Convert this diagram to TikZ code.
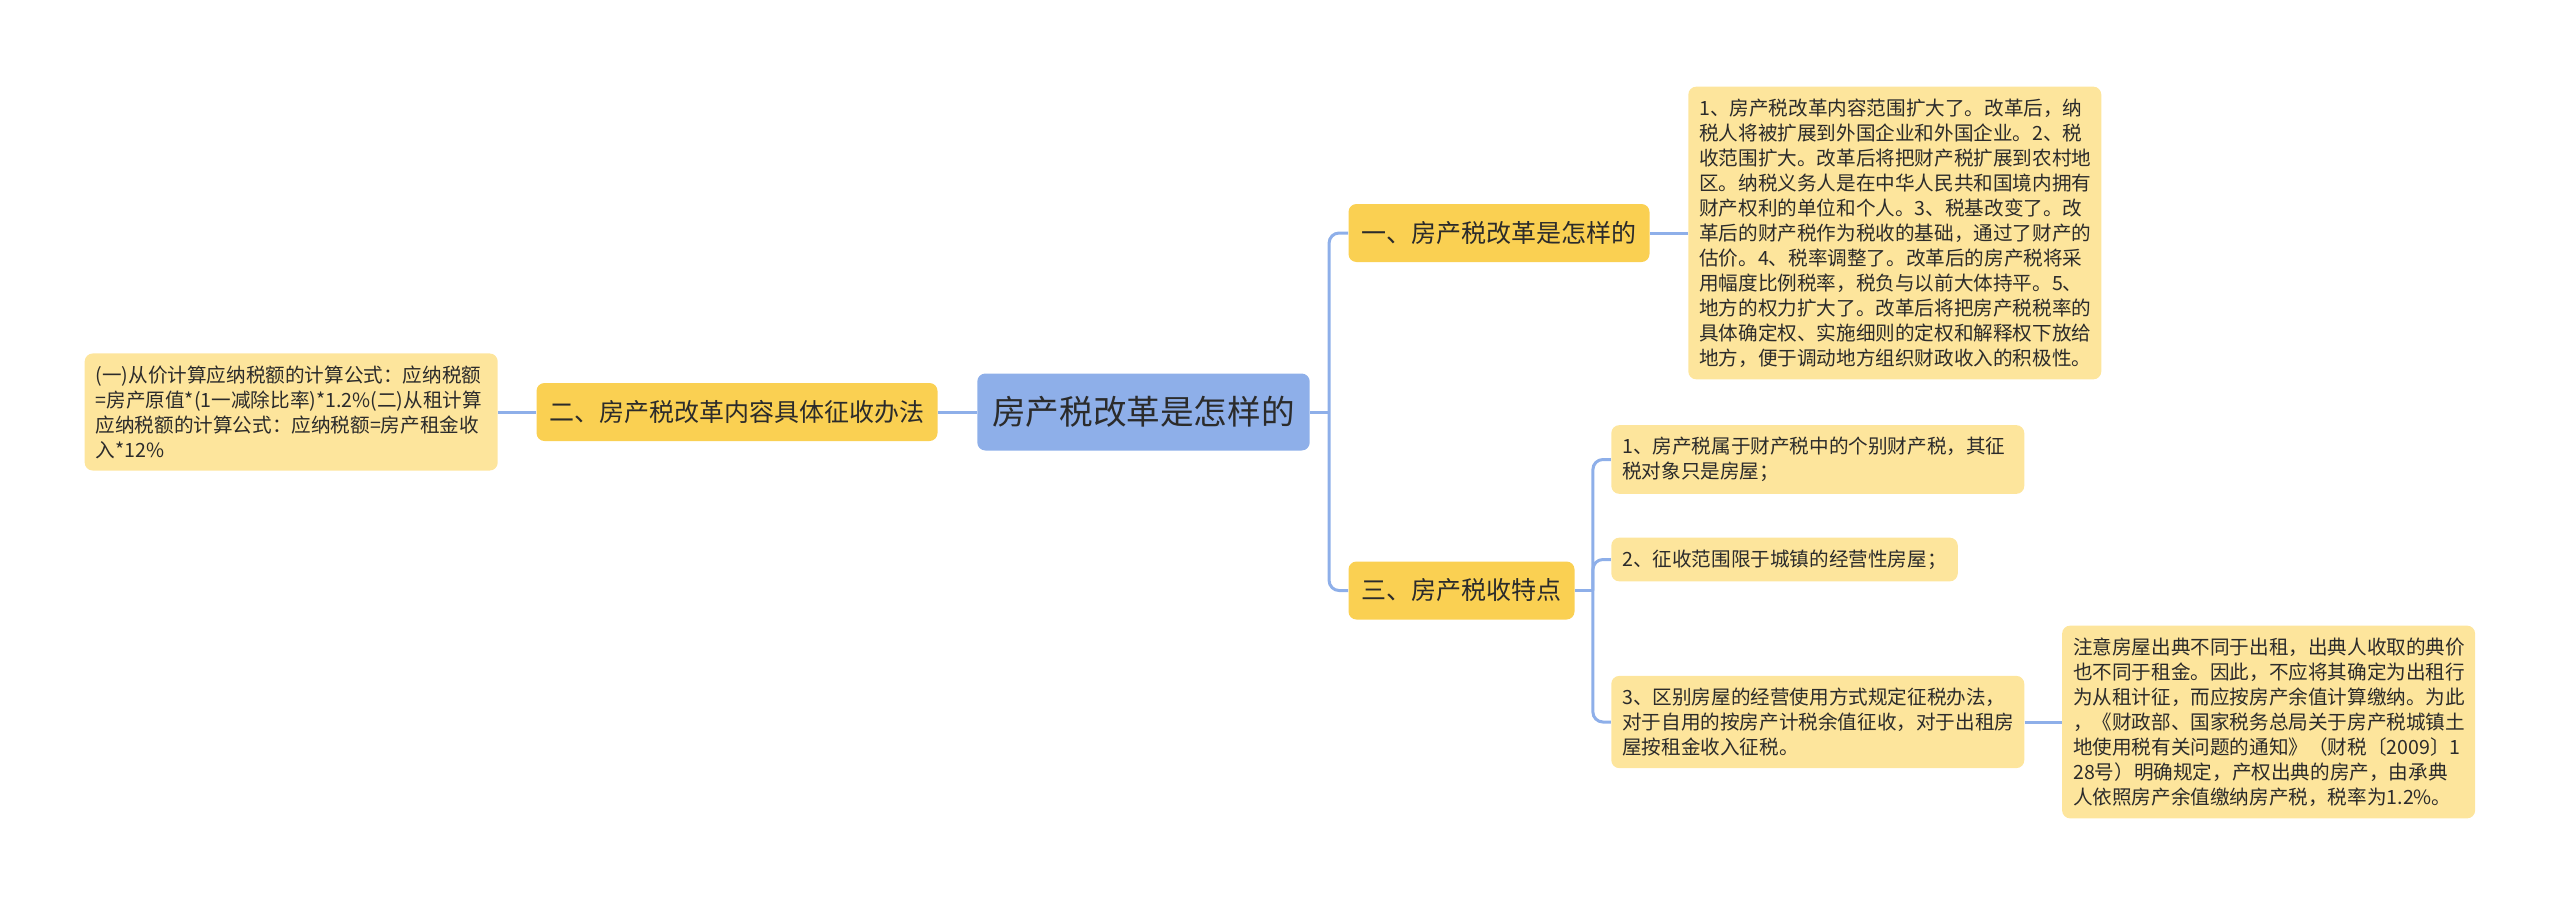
\documentclass[tikz,border=0pt]{standalone}
\usepackage{fontspec}
\setmainfont{Noto Sans CJK SC}
\definecolor{rootblue}{HTML}{8EAFE9}
\definecolor{branchgold}{HTML}{FAD052}
\definecolor{leafcream}{HTML}{FDE59C}
\definecolor{linkblue}{HTML}{8EAFE9}
\definecolor{inkgray}{HTML}{2B2B2B}
\usetikzlibrary{positioning}

\begin{document}
\begin{tikzpicture}[node distance=19pt,
  rootbox/.style={draw=none,fill=rootblue,rounded corners=4pt,inner xsep=7.5pt,minimum height=38.5pt,text=inkgray,font=\fontsize{16.8pt}{20pt}\selectfont},
  branchbox/.style={fill=branchgold,rounded corners=4pt,inner xsep=6.5pt,minimum height=29pt,text=inkgray,font=\fontsize{12.5pt}{15pt}\selectfont},
  leafbox/.style={fill=leafcream,rounded corners=4pt,inner xsep=5.5pt,inner ysep=6pt,align=left,text=inkgray,font=\fontsize{9.8pt}{12.5pt}\selectfont},
  wideleaf/.style={leafbox,text width=195.5pt},
  link/.style={draw=linkblue,line width=1.5pt},
  elbow/.style={link,rounded corners=5pt}]
  \useasboundingbox (0,0) rectangle (1280pt,-452.5pt);
  % centre and left side
  \node[rootbox] (root) at (571.75pt,-206pt) {房产税改革是怎样的};
  \node[branchbox,left=19.5pt of root] (reform) {二、房产税改革内容具体征收办法};
  \node[wideleaf,left=of reform] (formula) {(一)从价计算应纳税额的计算公式：应纳税额\\=房产原值*(1一减除比率)*1.2\%(二)从租计算\\应纳税额的计算公式：应纳税额=房产租金收\\入*12\%};
  % right side
  \node[branchbox,right=of root,yshift=89.5pt] (what) {一、房产税改革是怎样的};
  \node[wideleaf,right=of what] (whatinfo) {1、房产税改革内容范围扩大了。改革后，纳\\税人将被扩展到外国企业和外国企业。2、税\\收范围扩大。改革后将把财产税扩展到农村地\\区。纳税义务人是在中华人民共和国境内拥有\\财产权利的单位和个人。3、税基改变了。改\\革后的财产税作为税收的基础，通过了财产的\\估价。4、税率调整了。改革后的房产税将采\\用幅度比例税率，税负与以前大体持平。5、\\地方的权力扩大了。改革后将把房产税税率的\\具体确定权、实施细则的定权和解释权下放给\\地方，便于调动地方组织财政收入的积极性。};
  \node[branchbox,right=of root,yshift=-89.25pt] (traits) {三、房产税收特点};
  \node[wideleaf,right=18pt of traits,yshift=65.5pt] (tone) {1、房产税属于财产税中的个别财产税，其征\\税对象只是房屋；};
  \node[leafbox,right=18pt of traits,yshift=15.5pt] (ttwo) {2、征收范围限于城镇的经营性房屋；};
  \node[wideleaf,right=18pt of traits,yshift=-65.75pt] (tthree) {3、区别房屋的经营使用方式规定征税办法，\\对于自用的按房产计税余值征收，对于出租房\\屋按租金收入征税。};
  \node[wideleaf,right=18.5pt of tthree] (pawn) {注意房屋出典不同于出租，出典人收取的典价\\也不同于租金。因此，不应将其确定为出租行\\为从租计征，而应按房产余值计算缴纳。为此\\，《财政部、国家税务总局关于房产税城镇土\\地使用税有关问题的通知》（财税〔2009〕1\\28号）明确规定，产权出典的房产，由承典\\人依照房产余值缴纳房产税，税率为1.2\%。};
  % connectors
  \coordinate (rootfork) at ([xshift=9.5pt]root.east);
  \coordinate (traitfork) at ([xshift=9pt]traits.east);
  \draw[link] (root.west) -- (reform.east);
  \draw[link] (reform.west) -- (formula.east);
  \draw[link] (root.east) -- (rootfork);
  \draw[elbow] (what.west) -| (rootfork) |- (traits.west);
  \draw[link] (what.east) -- (whatinfo.west);
  \draw[link] (traits.east) -- (traitfork);
  \draw[elbow] (tone.west) -| (traitfork) |- (tthree.west);
  \draw[elbow] (traitfork) |- (ttwo.west);
  \draw[link] (tthree.east) -- (pawn.west);
\end{tikzpicture}
\end{document}
